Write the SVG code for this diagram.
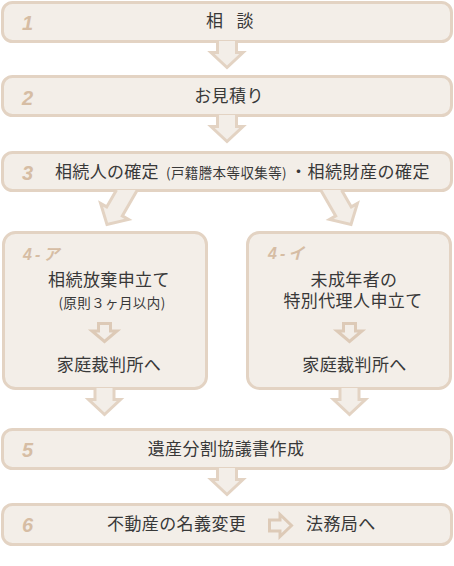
<svg xmlns="http://www.w3.org/2000/svg" width="454" height="566" viewBox="0 0 454 566">
<style>
.box{fill:#f3eee8;stroke:#e3d3c3;stroke-width:3}
.arr{fill:#f3eee8;stroke:#e3d3c3;stroke-width:3;stroke-linejoin:miter}
.harr{fill:#f3eee8;stroke:#ddcab7;stroke-width:3;stroke-linejoin:miter}
.t{font-family:"Noto Sans CJK JP","Noto Sans",sans-serif;font-size:17px;fill:#383838;letter-spacing:0.4px}
.s{font-size:13.5px}
.n{font-family:"Liberation Sans","Noto Sans CJK JP",sans-serif;font-weight:bold;font-style:italic;font-size:20px;fill:#d6bda4}
.n2{font-size:16px}
</style>
<rect width="454" height="566" fill="#ffffff"/>
<g id="node-1">
<rect class="box" x="2.5" y="2.5" width="449" height="39" rx="10"/>
<text class="n" x="22" y="30">1</text>
<text class="t" x="230" y="27" text-anchor="middle" xml:space="preserve" word-spacing="9">相 談</text>
</g>
<g id="node-2">
<rect class="box" x="2.5" y="76.5" width="449" height="39" rx="10"/>
<text class="n" x="22" y="105">2</text>
<text class="t" x="229" y="102" text-anchor="middle">お見積り</text>
</g>
<g id="node-3">
<rect class="box" x="2.5" y="152.5" width="449" height="38" rx="10"/>
<text class="n" x="22" y="180">3</text>
<text class="t" x="55" y="177.5" textLength="104" lengthAdjust="spacing">相続人の確定</text>
<text class="t s" x="166" y="177.5" textLength="121" lengthAdjust="spacing">(戸籍謄本等収集等)</text>
<text class="t" x="290" y="177.5" textLength="140" lengthAdjust="spacing">・相続財産の確定</text>
</g>
<g id="node-4a">
<rect class="box" x="3.5" y="232.5" width="203" height="156" rx="12"/>
<text class="n n2" x="23" y="260" letter-spacing="3">4-ア</text>
<text class="t" x="109" y="286" text-anchor="middle">相続放棄申立て</text>
<text class="t s" x="112" y="308" text-anchor="middle" letter-spacing="0.8">(原則３ヶ月以内)</text>
<path class="harr" d="M98.5 323.5 H110.5 V331 H117 L104.5 341.5 L92 331 H98.5 Z"/>
<text class="t" x="109" y="371" text-anchor="middle">家庭裁判所へ</text>
</g>
<g id="node-4b">
<rect class="box" x="247.5" y="232.5" width="203" height="156" rx="12"/>
<text class="n n2" x="268" y="259" letter-spacing="3">4-イ</text>
<text class="t" text-anchor="middle"><tspan x="354" y="285.5">未成年者の</tspan><tspan x="353" y="307">特別代理人申立て</tspan></text>
<path class="harr" d="M343.5 323.5 H355.5 V331 H362 L349.5 341.5 L337 331 H343.5 Z"/>
<text class="t" x="354.5" y="371" text-anchor="middle">家庭裁判所へ</text>
</g>
<g id="node-5">
<rect class="box" x="2.5" y="429.5" width="449" height="39" rx="10"/>
<text class="n" x="22" y="457">5</text>
<text class="t" x="226" y="454.5" text-anchor="middle">遺産分割協議書作成</text>
</g>
<g id="node-6">
<rect class="box" x="2.5" y="504.5" width="449" height="40" rx="10"/>
<text class="n" x="22" y="532">6</text>
<text class="t" x="107" y="530">不動産の名義変更</text>
<path class="harr" d="M269.5 520 H280 V514.5 L291.5 525.5 L280 536.5 V531 H269.5 Z"/>
<text class="t" x="306" y="530">法務局へ</text>
</g>
<g id="connectors">
<path class="arr" d="M217.5 41 V52.5 H211 L227 67.5 L243 52.5 H236.5 V41"/>
<path class="arr" d="M217.5 115 V126.5 H211 L227 141.5 L243 126.5 H236.5 V115"/>
<path class="arr" d="M116.5 190 L106.7 206.9 L100.6 203.4 L107 224.4 L128.4 219.4 L122.3 215.9 L137.3 190"/>
<path class="arr" d="M341.5 190 L351.3 206.9 L357.4 203.4 L351 224.4 L329.6 219.4 L335.7 215.9 L320.7 190"/>
<path class="arr" d="M95 388 V399.5 H88.5 L104.5 414.5 L120.5 399.5 H114 V388"/>
<path class="arr" d="M340 388 V399.5 H333.5 L349.5 414.5 L365.5 399.5 H359 V388"/>
<path class="arr" d="M217.5 468 V479.5 H211 L227 494.5 L243 479.5 H236.5 V468"/>
</g>
</svg>
